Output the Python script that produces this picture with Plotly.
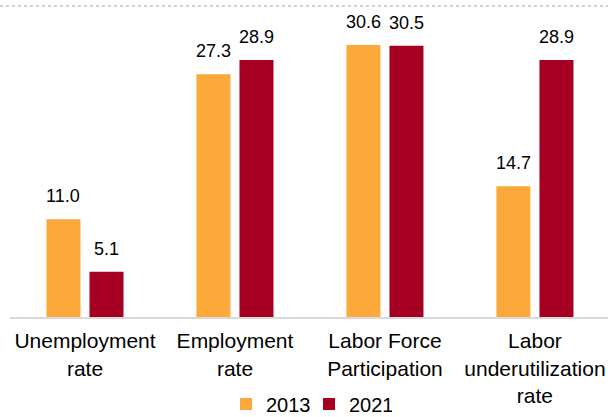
import plotly.graph_objects as go

categories = ["Unemployment<br>rate", "Employment<br>rate", "Labor Force<br>Participation", "Labor<br>underutilization<br>rate"]
values_2013 = [11.0, 27.3, 30.6, 14.7]
values_2021 = [5.1, 28.9, 30.5, 28.9]
series_names = ["2013", "2021"]
colors = ["#FBA93A", "#A50021"]

W, H = 608, 417
ml, mr, mt, mb = 10, 0, 0, 100
ph = H - mt - mb
pw = W - ml - mr

bar_w = 0.2267          # bar width in category units
offsets = [-0.257, 0.03]  # bar offsets in category units
label_xshift = [-21.5, 21.5]

fig = go.Figure()
for name, vals, col, off, xs in zip(series_names, [values_2013, values_2021], colors, offsets, label_xshift):
    fig.add_trace(go.Bar(
        x=categories, y=vals, name=name, marker=dict(color=col, line=dict(width=0)),
        width=bar_w, offset=off,
    ))
    for c, v in zip(categories, vals):
        fig.add_annotation(x=c, y=v, text=f"{v:.1f}", showarrow=False,
                           xref="x", yref="y", yanchor="bottom", xanchor="center",
                           xshift=xs, yshift=11,
                           font=dict(size=18, color="#000000"))

fig.update_layout(
    width=W, height=H,
    margin=dict(l=ml, r=mr, t=mt, b=mb, autoexpand=False),
    paper_bgcolor="white", plot_bgcolor="white",
    font=dict(family="Liberation Sans, Arial, sans-serif", size=21, color="#000000"),
    barmode="overlay",
    showlegend=True,
    legend=dict(orientation="h", x=0.5, xanchor="center", y=-87 / ph, yanchor="middle",
                font=dict(size=20), itemwidth=30, tracegroupgap=0, entrywidth=38,
                bgcolor="rgba(0,0,0,0)"),
    xaxis=dict(range=[-0.5, 3.487], showline=True, linecolor="#D9D9D9", linewidth=2,
               ticks="", tickfont=dict(size=21), showgrid=False, zeroline=False,
               ticklabelstandoff=4, automargin=False),
    yaxis=dict(range=[0, 35.66], visible=False, showgrid=False, zeroline=False),
)

fig.add_shape(type="line", xref="paper", yref="paper",
              x0=-ml / pw, x1=1, y0=(ph - 6) / ph, y1=(ph - 6) / ph,
              line=dict(color="#A0A0A0", width=1, dash="dot"))

fig.write_html("out.html", config={"displayModeBar": False},
               post_script="document.body.style.margin='0';")
